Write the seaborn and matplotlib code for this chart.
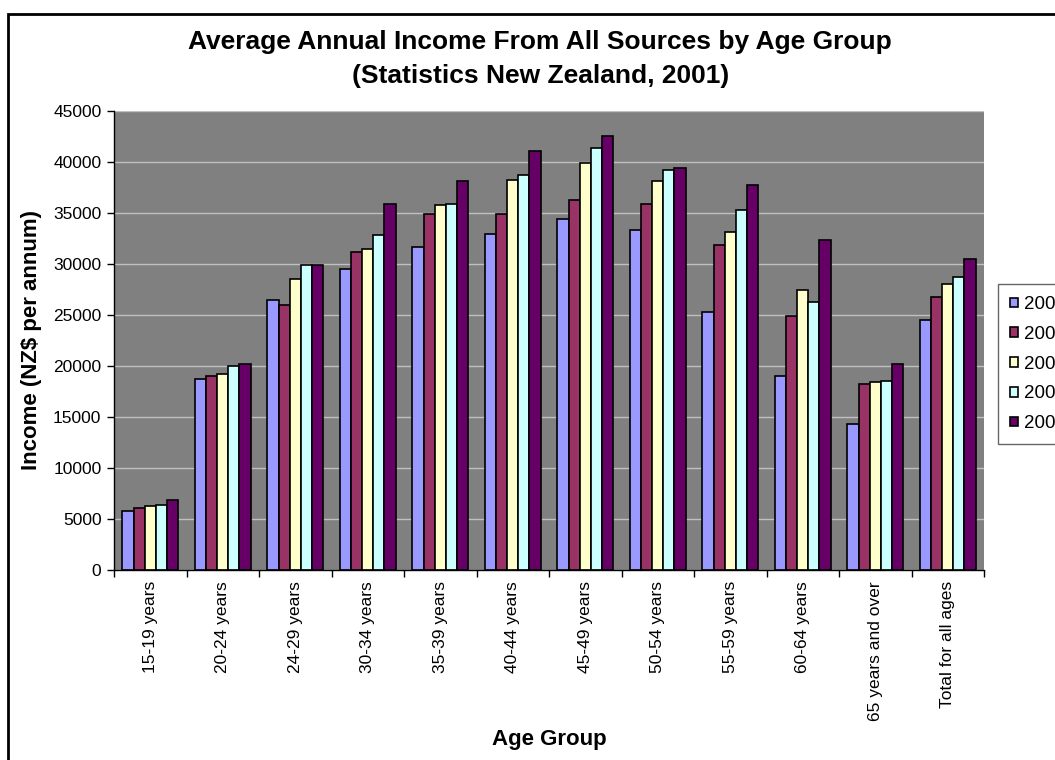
import matplotlib
matplotlib.use("Agg")
import matplotlib.pyplot as plt
import seaborn as sns
import pandas as pd
import numpy as np
from matplotlib.patches import Rectangle

categories = ["15-19 years", "20-24 years", "24-29 years", "30-34 years", "35-39 years",
              "40-44 years", "45-49 years", "50-54 years", "55-59 years", "60-64 years",
              "65 years and over", "Total for all ages"]
years = ["2001", "2002", "2003", "2004", "2005"]
v2001 = [5760, 18720, 26440, 29550, 31710, 32980, 34460, 33310, 25290, 19040, 14300, 24480]
v2002 = [6120, 19040, 25950, 31180, 34950, 34950, 36290, 35930, 31840, 24930, 18230, 26770]
v2003 = [6250, 19210, 28570, 31510, 35770, 38250, 39890, 38090, 33150, 27420, 18390, 28080]
v2004 = [6410, 20030, 29880, 32820, 35930, 38710, 41360, 39230, 35270, 26280, 18550, 28730]
v2005 = [6900, 20190, 29880, 35930, 38090, 41030, 42510, 39400, 37730, 32330, 20190, 30530]
colors = ["#9999FF", "#993366", "#FFFFCC", "#CCFFFF", "#660066"]

series = [v2001, v2002, v2003, v2004, v2005]
df = pd.DataFrame({
    "Age Group": np.repeat([categories], 5, axis=0).ravel(),
    "Year": np.repeat(years, len(categories)),
    "Income": np.concatenate(series),
})

sns.set_style("white")
plt.rcParams["font.family"] = ["Liberation Sans", "DejaVu Sans"]
for k in ["text.color", "axes.labelcolor", "xtick.color", "ytick.color"]:
    plt.rcParams[k] = "black"

fig = plt.figure(figsize=(10.55, 7.6), dpi=100)
ax = fig.add_axes([114/1055, 1-570/760, (984-114)/1055, (570-111)/760])
ax.set_facecolor("#808080")

sns.barplot(data=df, x="Age Group", y="Income", hue="Year", order=categories,
            hue_order=years, palette=dict(zip(years, colors)), width=0.77,
            edgecolor="black", linewidth=1.2, saturation=1, errorbar=None,
            ax=ax, legend=True, zorder=3)

ax.set_xlim(-0.5, len(categories) - 0.5)
ax.set_ylim(0, 45000)
ax.set_yticks(np.arange(0, 45001, 5000))
ax.yaxis.grid(True, color="#c0c0c0", linewidth=1.0, zorder=0)
ax.set_axisbelow(True)
for s in ["top", "right"]:
    ax.spines[s].set_visible(False)
for s in ["left", "bottom"]:
    ax.spines[s].set_color("black")
    ax.spines[s].set_linewidth(1.0)
    ax.spines[s].set_zorder(5)

ax.tick_params(axis="y", direction="out", length=5, width=1, color="black",
               labelsize=12.5, pad=4, left=True)
ax.tick_params(axis="x", which="major", length=0, labelsize=12.5, pad=8, rotation=90)
ax.set_xticks(np.arange(-0.5, len(categories)), minor=True)
ax.tick_params(axis="x", which="minor", direction="out", length=5, width=1, color="black", bottom=True)

ax.set_xlabel("Age Group", fontsize=16, fontweight="bold", labelpad=6)
ax.set_ylabel("Income (NZ$ per annum)", fontsize=16, fontweight="bold", labelpad=8)

fig.text(0.512, 1-42/760, "Average Annual Income From All Sources by Age Group",
         ha="center", va="center", fontsize=19, fontweight="bold")
fig.text(0.512, 1-76/760, "(Statistics New Zealand, 2001)",
         ha="center", va="center", fontsize=19, fontweight="bold")

handles, labels = ax.get_legend_handles_labels()
ax.get_legend().remove()
leg = fig.legend(handles, labels, loc="upper left", bbox_to_anchor=(998/1055, 1-284/760),
                 borderaxespad=0, frameon=True, fancybox=False, fontsize=13.5,
                 handlelength=0.42, handleheight=0.42, handletextpad=0.3,
                 labelspacing=0.68, borderpad=0.65)
leg.get_frame().set_edgecolor("#404040")
leg.get_frame().set_linewidth(1.0)

fig.patches.append(Rectangle((8/1055, -0.1), 1.2, 1.1 - 14/760, transform=fig.transFigure,
                             fill=False, edgecolor="black", linewidth=2))

fig.savefig("out.png", dpi=100)
